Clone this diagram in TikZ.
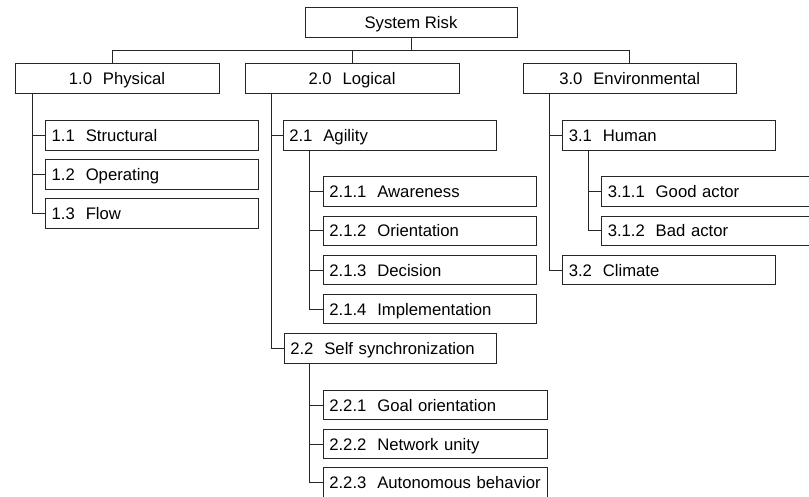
\documentclass[tikz,border=0pt]{standalone}
\usepackage{fontspec}
\setmainfont{Liberation Sans}
\begin{document}
\begin{tikzpicture}[x=1pt,y=-1pt,
  every node/.style={font=\fontsize{16.7}{20}\selectfont},
  box/.style={draw=black!85, line width=1pt, minimum height=29.5pt, inner xsep=0pt, inner ysep=0pt, text height=13.8pt, text depth=1.7pt},
  topbox/.style={box, minimum width=#1},
  subbox/.style={box, minimum width=#1, text width=#1, align=left, execute at begin node={\hspace*{6pt}}},
  conn/.style={draw=black!85, line width=1pt}]
\useasboundingbox (0,0) rectangle (809,496);
\clip (0,0) rectangle (809,496);
% level 0 and 1
\node[topbox=212pt] (root) at (411,22.3) {System Risk};
\node[topbox=204pt] (phys) at (117,78.7) {1.0\hspace{0.65em}Physical};
\node[topbox=214pt] (logi) at (352,78.7) {2.0\hspace{0.65em}Logical};
\node[topbox=212.7pt] (envi) at (629.7,78.7) {3.0\hspace{0.65em}Environmental};
% physical
\node[subbox=212.6pt] (s11) at (152,135.3) {1.1\hspace{0.65em}Structural};
\node[subbox=212.6pt] (s12) at (152,174.4) {1.2\hspace{0.65em}Operating};
\node[subbox=212.6pt] (s13) at (152,213.5) {1.3\hspace{0.65em}Flow};
% logical
\node[subbox=213.4pt] (s21) at (390,135.3) {2.1\hspace{0.65em}Agility};
\node[subbox=212.7pt] (s211) at (429.7,191.7) {2.1.1\hspace{0.65em}Awareness};
\node[subbox=212.7pt] (s212) at (429.7,230.9) {2.1.2\hspace{0.65em}Orientation};
\node[subbox=212.7pt] (s213) at (429.7,270) {2.1.3\hspace{0.65em}Decision};
\node[subbox=212.7pt] (s214) at (429.7,309.2) {2.1.4\hspace{0.65em}Implementation};
\node[subbox=212.4pt] (s22) at (390.5,348.3) {2.2\hspace{0.65em}Self synchronization};
\node[subbox=224pt] (s221) at (435.3,405) {2.2.1\hspace{0.65em}Goal orientation};
\node[subbox=224pt] (s222) at (435.3,444) {2.2.2\hspace{0.65em}Network unity};
\node[subbox=224pt] (s223) at (435.3,482.7) {2.2.3\hspace{0.65em}Autonomous behavior};
% environmental
\node[subbox=212.3pt] (s31) at (668.9,135.3) {3.1\hspace{0.65em}Human};
\node[subbox=212.5pt] (s311) at (708,191.7) {3.1.1\hspace{0.65em}Good actor};
\node[subbox=212.5pt] (s312) at (708,230.9) {3.1.2\hspace{0.65em}Bad actor};
\node[subbox=212.3pt] (s32) at (668.9,270) {3.2\hspace{0.65em}Climate};
% bus from root
\coordinate (bus) at (411,50.7);
\draw[conn] (root.south) -- (bus);
\draw[conn] (bus) -| ([xshift=-4.3pt]phys.north);
\draw[conn] (bus) -| (logi.north);
\draw[conn] (bus) -| (envi.north);
% physical stem
\draw[conn] ([xshift=17.7pt]phys.south west) |- (s13.west);
\foreach \n in {s11,s12} \draw[conn] ([xshift=17.7pt]phys.south west |- \n.west) -- (\n.west);
% logical stem
\draw[conn] ([xshift=26.7pt]logi.south west) |- (s22.west);
\draw[conn] ([xshift=26.7pt]logi.south west |- s21.west) -- (s21.west);
% agility stem
\draw[conn] ([xshift=26.7pt]s21.south west) |- (s214.west);
\foreach \n in {s211,s212,s213} \draw[conn] ([xshift=26.7pt]s21.south west |- \n.west) -- (\n.west);
% self sync stem
\draw[conn] ([xshift=25.7pt]s22.south west) |- (s223.west);
\foreach \n in {s221,s222} \draw[conn] ([xshift=25.7pt]s22.south west |- \n.west) -- (\n.west);
% environmental stem
\draw[conn] ([xshift=26.7pt]envi.south west) |- (s32.west);
\draw[conn] ([xshift=26.7pt]envi.south west |- s31.west) -- (s31.west);
% human stem
\draw[conn] ([xshift=26.3pt]s31.south west) |- (s312.west);
\draw[conn] ([xshift=26.3pt]s31.south west |- s311.west) -- (s311.west);
\end{tikzpicture}
\end{document}
